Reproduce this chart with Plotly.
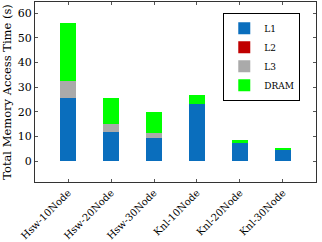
import plotly.graph_objects as go

categories = ["Hsw-10Node", "Hsw-20Node", "Hsw-30Node", "Knl-10Node", "Knl-20Node", "Knl-30Node"]
l1 = [25.4, 11.7, 9.2, 23.2, 7.3, 4.7]
l2 = [0.0, 0.0, 0.0, 0.0, 0.0, 0.0]
l3 = [7.0, 3.2, 2.3, 0.0, 0.0, 0.0]
dram = [23.7, 10.6, 8.3, 3.5, 1.2, 0.7]

series = [("L1", l1, "#0a6ebd"), ("L2", l2, "#c00000"), ("L3", l3, "#aaaaaa"), ("DRAM", dram, "#00ff00")]

fig = go.Figure()
for name, vals, col in series:
    fig.add_trace(go.Bar(x=list(range(len(categories))), y=vals, name=name,
                         marker=dict(color=col, line=dict(width=0)), width=0.37))

font = "DejaVu Serif, Liberation Serif, serif"
fig.update_layout(
    barmode="stack", width=322, height=242,
    margin=dict(l=35, r=6, t=2, b=60),
    plot_bgcolor="white", paper_bgcolor="white",
    font=dict(family=font, size=11, color="black"),
    showlegend=True,
    legend=dict(x=0.67, y=0.94, xanchor="left", yanchor="top",
                bordercolor="black", borderwidth=1, bgcolor="white",
                font=dict(size=9), tracegroupgap=0, traceorder="normal",
                itemwidth=30),
    xaxis=dict(tickmode="array", tickvals=list(range(len(categories))), ticktext=categories,
               range=[-0.77, 5.77], tickangle=-45, showline=True, linecolor="#333",
               linewidth=1, mirror="ticks", ticks="inside", ticklen=3, tickcolor="#555",
               showgrid=False, zeroline=False, tickfont=dict(size=10), automargin=False),
    yaxis=dict(range=[-8.5, 64.5], tickvals=[0, 10, 20, 30, 40, 50, 60],
               showline=True, linecolor="#333", linewidth=1, mirror="ticks",
               ticks="inside", ticklen=3, tickcolor="#555", showgrid=False, zeroline=False,
               tickfont=dict(size=11), automargin=False,
               title=dict(text="Total Memory Access Time (s)", standoff=3, font=dict(size=11.5))),
)
fig.write_html("out.html")
